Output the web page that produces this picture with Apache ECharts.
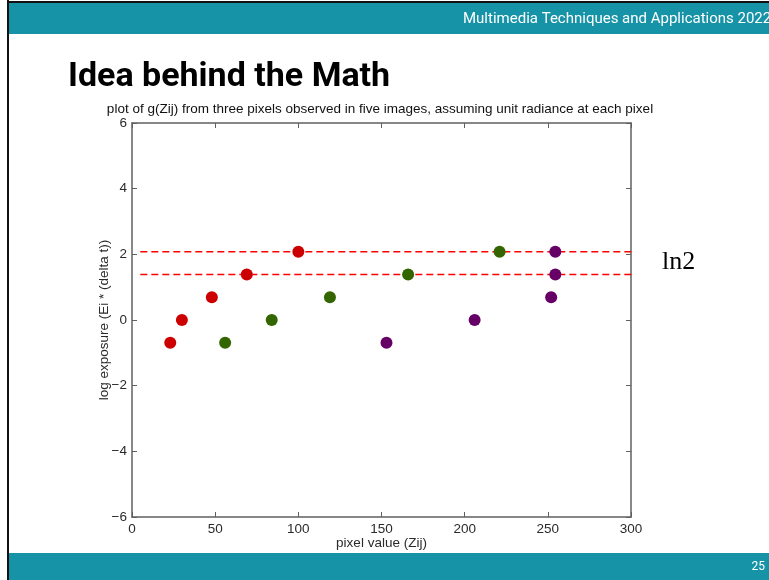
<!DOCTYPE html>
<html>
<head>
<meta charset="utf-8">
<title>Idea behind the Math</title>
<script src="https://cdn.jsdelivr.net/npm/echarts@6/dist/echarts.min.js"></script>
<style>
  html, body { margin: 0; padding: 0; background: #fff; }
  #chart { width: 769px; height: 580px; }
</style>
</head>
<body>
<div id="chart"></div>
<script>
// pixel value (Zij) vs log exposure for three pixels, five images each
const logExposure = [-0.693, 0, 0.693, 1.386, 2.079];
const redPixel = [23, 30, 48, 69, 100];
const greenPixel = [56, 84, 119, 166, 221];
const purplePixel = [153, 206, 252, 254.5, 254.5];

// reference dashed lines (2 ln2, 3 ln2), drawn a little past the axes
const refLevels = [2.079, 1.386];
const refSpan = [5, 308];

const xTicks = { min: 0, max: 300, interval: 50 };
const yTicks = { min: -6, max: 6, interval: 2 };

const chart = echarts.init(document.getElementById('chart'));

const axisColor = '#606060';
const labelColor = '#2b2b2b';
const font = '"Liberation Sans", Arial, sans-serif';

function pairs(xs) {
  return xs.map((x, i) => [x, logExposure[i]]);
}

// matlab prints a real minus sign
const minus = (v) => String(v).replace('-', '\u2212');

function axis(position, showLabels, ticks) {
  return {
    type: 'value',
    position,
    ...ticks,
    axisLine: { show: true, onZero: false, lineStyle: { color: axisColor, width: 1.5 } },
    axisTick: { show: true, inside: true, length: 5, lineStyle: { color: axisColor } },
    axisLabel: {
      show: showLabels,
      color: labelColor,
      fontFamily: font,
      fontSize: 13.5,
      margin: 5,
      formatter: minus,
    },
    splitLine: { show: false },
  };
}

const option = {
  animation: false,
  grid: {
    left: 132,
    right: 138,
    top: 123,
    bottom: 63,
  },
  xAxis: [
    {
      ...axis('bottom', true, xTicks),
      name: 'pixel value (Zij)',
      nameLocation: 'middle',
      nameGap: 19,
      nameMoveOverlap: false,
      nameTextStyle: { color: labelColor, fontFamily: font, fontSize: 13.5 },
    },
    axis('top', false, xTicks),
  ],
  yAxis: [
    {
      ...axis('left', true, yTicks),
      name: 'log exposure (Ei * (delta t))',
      nameLocation: 'middle',
      nameGap: 21,
      nameMoveOverlap: false,
      nameTextStyle: { color: labelColor, fontFamily: font, fontSize: 13.5 },
    },
    axis('right', false, yTicks),
  ],
  series: [
    ...refLevels.map((level) => ({
      type: 'line',
      data: refSpan.map((x) => [x, level]),
      clip: false,
      symbol: 'none',
      silent: true,
      lineStyle: { color: '#ff0000', width: 1.5, type: [7, 4] },
      z: 3,
    })),
    {
      name: 'pixel 1',
      type: 'scatter',
      data: pairs(redPixel),
      symbolSize: 12,
      itemStyle: { color: '#cc0000', opacity: 1 },
      z: 4,
    },
    {
      name: 'pixel 2',
      type: 'scatter',
      data: pairs(greenPixel),
      symbolSize: 12,
      itemStyle: { color: '#336600', opacity: 1 },
      z: 4,
    },
    {
      name: 'pixel 3',
      type: 'scatter',
      data: pairs(purplePixel),
      symbolSize: 12,
      itemStyle: { color: '#660066', opacity: 1 },
      z: 4,
    },
  ],
  graphic: [
    // slide frame
    { type: 'rect', shape: { x: 7, y: 0, width: 2, height: 580 }, style: { fill: '#111' }, z: 10 },
    { type: 'rect', shape: { x: 7, y: 1, width: 762, height: 2 }, style: { fill: '#111' }, z: 10 },
    { type: 'rect', shape: { x: 9, y: 3, width: 760, height: 31 }, style: { fill: '#1793a8' }, z: 10 },
    { type: 'rect', shape: { x: 9, y: 553, width: 760, height: 27 }, style: { fill: '#1793a8' }, z: 10 },
    {
      type: 'text', x: 463, y: 19, z: 11,
      style: {
        text: 'Multimedia Techniques and Applications 2022',
        fill: '#fff', font: '15px Roboto, sans-serif', verticalAlign: 'middle',
      },
    },
    {
      type: 'text', x: 765, y: 567, z: 11,
      style: { text: '25', fill: '#fff', font: '12px Roboto, sans-serif', align: 'right', verticalAlign: 'middle' },
    },
    {
      type: 'text', x: 68, y: 77, z: 11,
      style: { text: 'Idea behind the Math', fill: '#000', font: 'bold 34px Roboto, sans-serif', verticalAlign: 'middle' },
    },
    {
      type: 'text', x: 380, y: 109, z: 11,
      style: {
        text: 'plot of g(Zij) from three pixels observed in five images, assuming unit radiance at each pixel',
        fill: '#111', font: '13.5px "Liberation Sans", Arial, sans-serif', align: 'center', verticalAlign: 'middle',
      },
    },
    {
      type: 'text', x: 662, y: 262, z: 11,
      style: { text: 'ln2', fill: '#000', font: '26px "Liberation Serif", "Times New Roman", serif', verticalAlign: 'middle' },
    },
  ],
};

chart.setOption(option);

window.addEventListener('resize', () => chart.resize());
</script>
</body>
</html>
